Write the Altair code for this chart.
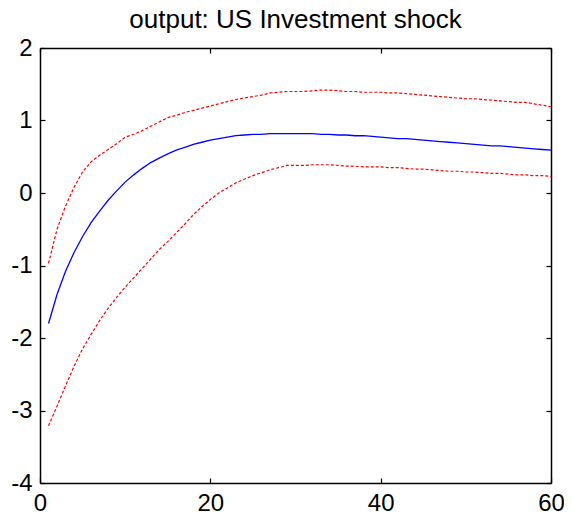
import altair as alt
import pandas as pd

periods = list(range(1, 61))
irf_median = [-1.80, -1.40, -1.08, -0.82, -0.60, -0.41, -0.25, -0.10, 0.03, 0.15,
              0.25, 0.34, 0.42, 0.48, 0.54, 0.59, 0.63, 0.67, 0.70, 0.73,
              0.75, 0.77, 0.79, 0.80, 0.81, 0.81, 0.82, 0.82, 0.82, 0.82,
              0.82, 0.82, 0.81, 0.81, 0.80, 0.80, 0.79, 0.79, 0.78, 0.77,
              0.76, 0.75, 0.75, 0.74, 0.73, 0.72, 0.71, 0.70, 0.69, 0.68,
              0.67, 0.66, 0.65, 0.65, 0.64, 0.63, 0.62, 0.61, 0.60, 0.59]
irf_upper = [-0.97, -0.50, -0.18, 0.08, 0.29, 0.43, 0.52, 0.60, 0.68, 0.77,
             0.81, 0.86, 0.92, 0.98, 1.04, 1.07, 1.11, 1.14, 1.17, 1.20,
             1.23, 1.26, 1.29, 1.31, 1.33, 1.35, 1.38, 1.39, 1.40, 1.40,
             1.40, 1.41, 1.42, 1.42, 1.41, 1.40, 1.40, 1.39, 1.39, 1.39,
             1.38, 1.38, 1.37, 1.36, 1.35, 1.34, 1.33, 1.32, 1.31, 1.30,
             1.30, 1.29, 1.28, 1.27, 1.26, 1.25, 1.25, 1.23, 1.21, 1.19]
irf_lower = [-3.21, -2.94, -2.66, -2.39, -2.15, -1.95, -1.76, -1.59, -1.44, -1.30,
             -1.17, -1.04, -0.91, -0.78, -0.67, -0.55, -0.43, -0.30, -0.19, -0.09,
             0.00, 0.07, 0.14, 0.19, 0.24, 0.28, 0.32, 0.35, 0.38, 0.38,
             0.38, 0.39, 0.39, 0.39, 0.38, 0.37, 0.37, 0.36, 0.36, 0.36,
             0.35, 0.35, 0.34, 0.33, 0.33, 0.32, 0.31, 0.30, 0.30, 0.29,
             0.29, 0.28, 0.27, 0.27, 0.26, 0.25, 0.25, 0.24, 0.24, 0.23]
x_ticks = [0, 20, 40, 60]
y_ticks = [-4, -3, -2, -1, 0, 1, 2]
title_text = "output: US Investment shock"

df = pd.DataFrame({"t": periods, "median": irf_median, "upper": irf_upper, "lower": irf_lower})
bands = df.melt("t", value_vars=["upper", "lower"], var_name="band", value_name="v")

FONT = "Liberation Sans"
W, H = 511, 435
xscale = alt.Scale(domain=[0, 60], nice=False, zero=False)
yscale = alt.Scale(domain=[-4, 2], nice=False, zero=False)

ax_common = dict(
    grid=False, title=None, tickSize={"expr": "-5"}, tickColor="black", tickWidth=1.2,
    domainColor="black", domainWidth=1.5, labelFont=FONT, labelFontSize=24,
    labelColor="black", labelExpr="datum.value + ''", labelFlush=False,
    labelOverlap=False,
)

x_bottom = alt.Axis(orient="bottom", values=x_ticks, labelPadding=13, **ax_common)
y_left = alt.Axis(orient="left", values=y_ticks, labelPadding=13, **ax_common)
x_top = alt.Axis(orient="top", values=x_ticks, labels=False, **ax_common)
y_right = alt.Axis(orient="right", values=y_ticks, labels=False, **ax_common)

median_line = alt.Chart(df).mark_line(color="#0000ff", strokeWidth=1.3).encode(
    x=alt.X("t:Q", scale=xscale, axis=x_bottom),
    y=alt.Y("median:Q", scale=yscale, axis=y_left),
)

band_lines = alt.Chart(bands).mark_line(color="#ff0000", strokeWidth=1.2, strokeDash=[3, 2]).encode(
    x=alt.X("t:Q", scale=xscale, axis=x_top),
    y=alt.Y("v:Q", scale=yscale, axis=y_right),
    detail="band:N",
)

chart = alt.layer(median_line, band_lines).resolve_axis(
    x="independent", y="independent"
).properties(
    width=W, height=H,
    title=alt.TitleParams(title_text, font=FONT, fontSize=26, fontWeight="normal",
                          color="black", anchor="middle", baseline="alphabetic",
                          offset=-18),
    autosize=alt.AutoSizeParams(type="none"),
    padding={"left": 32, "top": 40, "right": 13, "bottom": 34},
).configure_view(stroke=None).configure(background="white")

chart.save("out.html", embed_options={"renderer": "svg", "actions": False})
